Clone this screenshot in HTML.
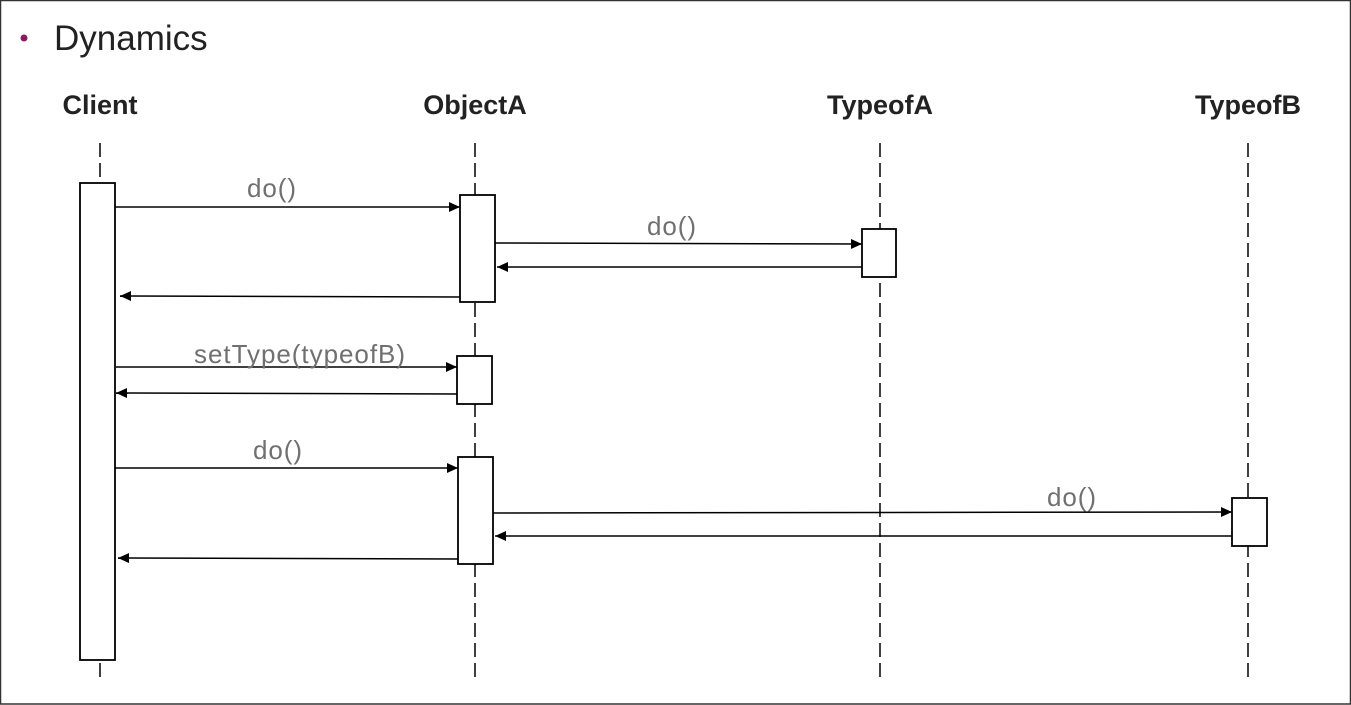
<!DOCTYPE html>
<html><head><meta charset="utf-8"><style>
html,body{margin:0;padding:0;background:#fff}
svg{display:block}
</style></head><body>
<svg width="1351" height="705" viewBox="0 0 1351 705" xmlns="http://www.w3.org/2000/svg" font-family="Liberation Sans, sans-serif">
<defs>
<marker id="ah" markerWidth="12" markerHeight="10" refX="11" refY="5" orient="auto" markerUnits="userSpaceOnUse">
<path d="M0,0 L11,5 L0,10 Z" fill="#000"/>
</marker>
</defs>
<rect x="0.5" y="0.5" width="1350" height="703.5" fill="#fff" stroke="#333" stroke-width="1.5"/>
<circle cx="24" cy="38" r="3.5" fill="#8b1a5e"/>
<text x="54" y="50" font-size="35" fill="#222">Dynamics</text>
<g font-weight="bold" font-size="27" fill="#222" text-anchor="middle">
<text x="100" y="114">Client</text>
<text x="475" y="114">ObjectA</text>
<text x="880" y="114">TypeofA</text>
<text x="1248" y="114">TypeofB</text>
</g>
<g stroke="#000" stroke-width="1.5" stroke-dasharray="14,6">
<line x1="100" y1="143" x2="100" y2="680"/>
<line x1="475" y1="143" x2="475" y2="680"/>
<line x1="880" y1="143" x2="880" y2="680"/>
<line x1="1248" y1="143" x2="1248" y2="680"/>
</g>
<g stroke="#000" stroke-width="1.5" fill="none" marker-end="url(#ah)">
<line x1="115" y1="207" x2="460" y2="207"/>
<line x1="495" y1="243" x2="862" y2="244"/>
<line x1="862" y1="267" x2="497" y2="267"/>
<line x1="460" y1="297" x2="120" y2="296"/>
<line x1="116" y1="367" x2="457" y2="367"/>
<line x1="457" y1="394" x2="116" y2="393"/>
<line x1="115" y1="468" x2="458" y2="468"/>
<line x1="493" y1="513" x2="1232" y2="512"/>
<line x1="1232" y1="536" x2="495" y2="536"/>
<line x1="458" y1="559" x2="118" y2="558"/>
</g>
<g fill="#fff" stroke="#000" stroke-width="1.8">
<rect x="80" y="183" width="35" height="477"/>
<rect x="460" y="195" width="35" height="107"/>
<rect x="862" y="229" width="34" height="48"/>
<rect x="457" y="356" width="35" height="48"/>
<rect x="458" y="457" width="35" height="107"/>
<rect x="1232" y="498" width="35" height="48"/>
</g>
<g font-size="26" fill="#707070">
<text x="247" y="197" textLength="49">do()</text>
<text x="647" y="235" textLength="49">do()</text>
<text x="194" y="363" textLength="211">setType(typeofB)</text>
<text x="253" y="459" textLength="49">do()</text>
<text x="1047" y="506" textLength="49">do()</text>
</g>
</svg>
</body></html>
